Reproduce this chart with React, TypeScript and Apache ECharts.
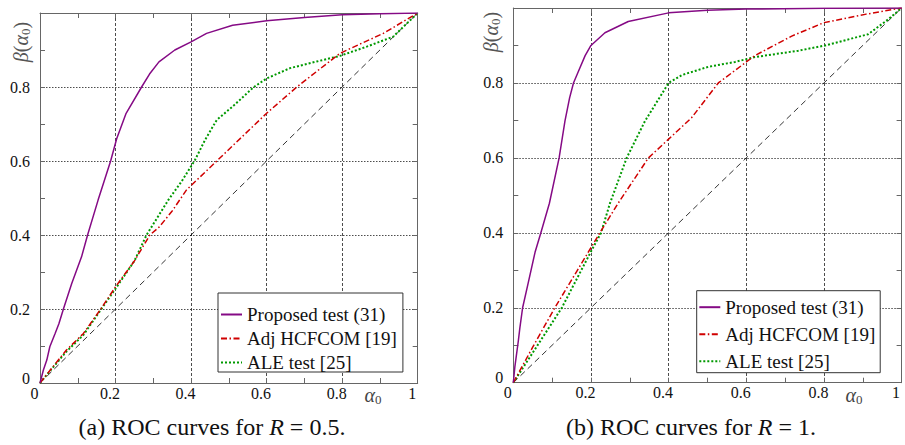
import React, { useEffect, useRef } from "react";
import * as echarts from "echarts";

const seriesNames = ["Proposed test (31)", "Adj HCFCOM [19]", "ALE test [25]"];
const captionPrefix = ["(a) ROC curves for ", "(b) ROC curves for "];
const captionValue = ["0.5", "1"];
const xTickLabels: Record<string, string> = { "0": "0", "0.2": "0.2", "0.4": "0.4", "0.6": "0.6", "0.8": "0.8", "1": "1" };
const yTickLabels: Record<string, string> = { "0": "0", "0.2": "0.2", "0.4": "0.4", "0.6": "0.6", "0.8": "0.8", "1": "" };

const diagonal: [number, number][] = [[0, 0], [1, 1]];

const leftProposed: [number, number][] = [
  [0, 0], [0.009, 0.035], [0.018, 0.062], [0.026, 0.098], [0.04, 0.134], [0.05, 0.16], [0.062, 0.2],
  [0.084, 0.269], [0.11, 0.341], [0.126, 0.4], [0.154, 0.495], [0.187, 0.6], [0.203, 0.66], [0.228, 0.729],
  [0.269, 0.8], [0.29, 0.835], [0.315, 0.868], [0.357, 0.9], [0.4, 0.922], [0.441, 0.945], [0.51, 0.967], [0.6, 0.979],
  [0.7, 0.988], [0.8, 0.995], [0.9, 0.998], [1, 1],
];
const leftAdj: [number, number][] = [
  [0, 0], [0.035, 0.045], [0.07, 0.089], [0.115, 0.134], [0.159, 0.197], [0.2, 0.26], [0.25, 0.33],
  [0.291, 0.4], [0.316, 0.422], [0.35, 0.465], [0.388, 0.522], [0.468, 0.6], [0.6, 0.729], [0.68, 0.8],
  [0.794, 0.891], [0.909, 0.945], [1, 1],
];
const leftAle: [number, number][] = [
  [0, 0], [0.035, 0.043], [0.07, 0.085], [0.115, 0.13], [0.159, 0.195], [0.2, 0.255], [0.25, 0.33],
  [0.282, 0.4], [0.34, 0.495], [0.375, 0.545], [0.41, 0.602], [0.437, 0.657], [0.468, 0.711], [0.512, 0.749],
  [0.565, 0.799], [0.6, 0.823], [0.662, 0.851], [0.733, 0.869], [0.794, 0.884], [0.865, 0.909], [0.935, 0.936], [1, 1],
];

const rightProposed: [number, number][] = [
  [0, 0], [0.004, 0.042], [0.013, 0.112], [0.017, 0.147], [0.024, 0.2], [0.039, 0.269], [0.056, 0.348],
  [0.071, 0.4], [0.093, 0.479], [0.118, 0.6], [0.133, 0.698], [0.145, 0.76], [0.155, 0.8], [0.167, 0.829],
  [0.185, 0.873], [0.2, 0.9], [0.236, 0.934], [0.296, 0.964], [0.4, 0.987], [0.5, 0.994], [0.6, 0.997],
  [0.8, 0.999], [1, 1],
];
const rightAdj: [number, number][] = [
  [0, 0], [0.05, 0.095], [0.107, 0.2], [0.165, 0.3], [0.223, 0.4], [0.27, 0.479], [0.348, 0.6], [0.4, 0.65],
  [0.459, 0.707], [0.528, 0.8], [0.6, 0.856], [0.622, 0.873], [0.717, 0.925], [0.8, 0.961], [0.906, 0.983], [1, 1],
];
const rightAle: [number, number][] = [
  [0, 0], [0.05, 0.08], [0.125, 0.2], [0.2, 0.35], [0.226, 0.4], [0.249, 0.479], [0.292, 0.6], [0.339, 0.698],
  [0.4, 0.8], [0.434, 0.821], [0.502, 0.843], [0.571, 0.856], [0.622, 0.869], [0.734, 0.886], [0.803, 0.9],
  [0.914, 0.93], [0.966, 0.97], [1, 1],
];

const FONT = "Liberation Serif";
const AXIS_COLOR = "#666";
const TEXT_COLOR = "#111";
const COLORS = ["#850a85", "#d00000", "#009900"];
const LINE_TYPES: any[] = ["solid", [6, 2.5, 1.5, 2.5], [2, 2]];
const LINE_WIDTHS = [1.5, 1.5, 2];

function key(v: number) {
  return String(Math.round(v * 10) / 10);
}

function xAxis(gridIndex: number, bottom: boolean) {
  return {
    type: "value", gridIndex, min: 0, max: 1, interval: 0.2,
    position: bottom ? "bottom" : "top",
    axisLine: { show: true, onZero: false, lineStyle: { color: AXIS_COLOR, width: 1 } },
    axisTick: { show: true, inside: true, length: 5, lineStyle: { color: AXIS_COLOR } },
    minorTick: { show: true, splitNumber: 2, length: 5, lineStyle: { color: AXIS_COLOR } },
    splitLine: bottom ? { show: true, lineStyle: { color: "#000", type: [3, 2], width: 0.7 } } : { show: false },
    axisLabel: bottom
      ? {
          show: true, fontFamily: FONT, fontSize: 16, color: TEXT_COLOR, margin: 2, padding: [0, 11, 0, 0],
          formatter: (v: number) => "{t|" + (xTickLabels[key(v)] ?? key(v)) + "}",
          rich: { t: { fontFamily: FONT, fontSize: 16, color: TEXT_COLOR } },
        }
      : { show: false },
  };
}

function yAxis(gridIndex: number, left: boolean) {
  return {
    type: "value", gridIndex, min: 0, max: 1, interval: 0.2,
    position: left ? "left" : "right",
    axisLine: { show: true, onZero: false, lineStyle: { color: AXIS_COLOR, width: 1 } },
    axisTick: { show: true, inside: true, length: 5, lineStyle: { color: AXIS_COLOR } },
    minorTick: { show: true, splitNumber: 2, length: 5, lineStyle: { color: AXIS_COLOR } },
    splitLine: left ? { show: true, lineStyle: { color: "#000", type: [1.5, 1.5], width: 0.7 } } : { show: false },
    axisLabel: left
      ? {
          show: true, fontFamily: FONT, fontSize: 16, color: TEXT_COLOR, margin: 10,
          formatter: (v: number) => (v === 0 ? "{z|0}" : "{t|" + (yTickLabels[key(v)] ?? key(v)) + "}"),
          rich: {
            z: { fontFamily: FONT, fontSize: 16, color: TEXT_COLOR, padding: [0, 0, 10, 0] },
            t: { fontFamily: FONT, fontSize: 16, color: TEXT_COLOR },
          },
        }
      : { show: false },
  };
}

function curves(xi: number, data: [number, number][][]) {
  const list: any[] = [
    {
      type: "line", name: "diag", data: diagonal, xAxisIndex: xi, yAxisIndex: xi, symbol: "none",
      lineStyle: { color: "#000", width: 0.8, type: [6, 4] }, silent: true, z: 2,
    },
  ];
  data.forEach((d, i) => {
    list.push({
      type: "line", name: seriesNames[i], data: d, xAxisIndex: xi, yAxisIndex: xi, symbol: "none",
      lineStyle: { color: COLORS[i], width: LINE_WIDTHS[i], type: LINE_TYPES[i] },
      itemStyle: { color: COLORS[i] }, z: 3 + (2 - i),
    });
  });
  return list;
}

function legend(left: number, top: number, padding: number[], gap: number) {
  return {
    data: seriesNames, left, top, orient: "vertical", itemWidth: 21, itemHeight: 4, itemGap: gap,
    itemStyle: { opacity: 0 },
    formatter: (name: string) => "{t|" + name + "}",
    textStyle: {
      fontFamily: FONT, fontSize: 19, color: TEXT_COLOR, lineHeight: 19,
      rich: { t: { fontFamily: FONT, fontSize: 19, color: TEXT_COLOR, lineHeight: 19 } },
    },
    backgroundColor: "#fff", borderColor: "#333", borderWidth: 1, borderRadius: 0, padding,
    selectedMode: false,
  };
}

const yName = (x: number, y: number) => ({
  type: "text", x, y, rotation: Math.PI / 2,
  style: {
    text: "{i|β}{n|(}{i|α}{s|0}{n|)}", align: "center", verticalAlign: "middle",
    rich: {
      i: { fontFamily: FONT, fontSize: 20, fontStyle: "italic", fill: "#555", lineHeight: 22, verticalAlign: "middle" },
      n: { fontFamily: FONT, fontSize: 20, fill: "#555", lineHeight: 22, verticalAlign: "middle" },
      s: { fontFamily: FONT, fontSize: 13, fill: "#555", lineHeight: 22, verticalAlign: "bottom" },
    },
  },
});

const xName = (x: number, y: number) => ({
  type: "text", x, y,
  style: {
    text: "{i|α}{s|0}", align: "center", verticalAlign: "middle",
    rich: {
      i: { fontFamily: FONT, fontSize: 20, fontStyle: "italic", fill: "#444", lineHeight: 22, verticalAlign: "middle" },
      s: { fontFamily: FONT, fontSize: 13, fill: "#444", lineHeight: 22, verticalAlign: "bottom" },
    },
  },
});

const caption = (x: number, y: number, i: number) => ({
  type: "text", x, y,
  style: {
    text: "{n|" + captionPrefix[i] + "}{i|R}{n| = " + captionValue[i] + ".}",
    align: "center", verticalAlign: "middle",
    fontFamily: FONT, fontSize: 24, fill: TEXT_COLOR,
    rich: {
      i: { fontFamily: FONT, fontSize: 24, fontStyle: "italic", fill: TEXT_COLOR },
      n: { fontFamily: FONT, fontSize: 24, fill: TEXT_COLOR },
    },
  },
});

export default function App() {
  const ref = useRef<HTMLDivElement>(null);
  useEffect(() => {
    if (!ref.current) return;
    const chart = echarts.init(ref.current, undefined, { renderer: "svg" });
    chart.setOption({
      animation: false,
      backgroundColor: "#fff",
      textStyle: { fontFamily: FONT },
      grid: [
        { left: 40, top: 13, width: 377.7, height: 370 },
        { left: 513.3, top: 2, width: 388.3, height: 380.7 },
      ],
      xAxis: [xAxis(0, true), xAxis(0, false), xAxis(1, true), xAxis(1, false)],
      yAxis: [yAxis(0, true), yAxis(0, false), yAxis(1, true), yAxis(1, false)],
      legend: [legend(218, 293, [12, 6, 0, 2], 5), legend(696.7, 290.7, [7, 5, 2, 1.6], 8)],
      series: [
        ...curves(0, [leftProposed, leftAdj, leftAle]),
        ...curves(2, [rightProposed, rightAdj, rightAle]),
      ],
      graphic: [
        yName(21, 42), yName(491, 32),
        xName(373, 395), xName(854, 395),
        caption(212, 427, 0), caption(691, 427, 1),
      ],
    });
    return () => chart.dispose();
  }, []);
  return <div ref={ref} style={{ position: "absolute", left: 0, top: 0, width: 905, height: 445, background: "#fff" }} />;
}
